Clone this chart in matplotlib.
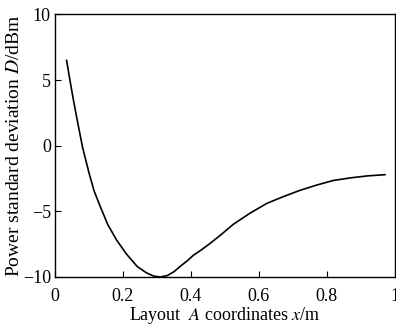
import numpy as np
import matplotlib
matplotlib.use("Agg")
import matplotlib.pyplot as plt

plt.rcParams["font.family"] = ["Liberation Serif", "DejaVu Serif"]
plt.rcParams["mathtext.fontset"] = "stix"
plt.rcParams["axes.unicode_minus"] = True

# values
x_pos = [0.034, 0.044, 0.055, 0.066, 0.081, 0.100, 0.115, 0.133, 0.155,
         0.181, 0.21, 0.242, 0.27, 0.29, 0.31, 0.33, 0.35, 0.368, 0.39,
         0.407, 0.43, 0.456, 0.49, 0.524, 0.574, 0.623, 0.67, 0.72, 0.77,
         0.819, 0.87, 0.92, 0.971]
d_std = [6.5, 4.96, 3.35, 1.85, -0.13, -2.08, -3.45, -4.63, -6.0,
         -7.18, -8.25, -9.21, -9.7, -9.93, -10.0, -9.9, -9.6, -9.2, -8.75,
         -8.35, -7.95, -7.45, -6.75, -6.0, -5.14, -4.4, -3.9, -3.41, -3.0,
         -2.65, -2.45, -2.3, -2.21]

x_ticks = [0, 0.2, 0.4, 0.6, 0.8, 1]
x_ticklabels = ["0", "0.2", "0.4", "0.6", "0.8", "1"]
y_ticks = [-10, -5, 0, 5, 10]

fig = plt.figure(figsize=(3.96, 3.27), dpi=100)
ax = fig.add_axes([0.139, 0.153, 0.858, 0.803])

ax.plot(x_pos, d_std, color="black", lw=1.2)

ax.set_xlim(0, 1)
ax.set_ylim(-10, 10)
ax.set_xticks(x_ticks)
ax.set_xticklabels(x_ticklabels)
ax.set_yticks(y_ticks)
ax.tick_params(direction="in", length=4, width=0.8, labelsize=13,
               top=False, right=False)
ax.tick_params(axis="x", pad=8)
ax.tick_params(axis="y", pad=3)
for s in ax.spines.values():
    s.set_linewidth(1.0)

ax.set_xlabel("Layout  $A$ coordinates $x$/m", fontsize=13, labelpad=0)
ax.set_ylabel("Power standard deviation $D$/dBm", fontsize=14, labelpad=0)

fig.savefig("out.png", dpi=100)
